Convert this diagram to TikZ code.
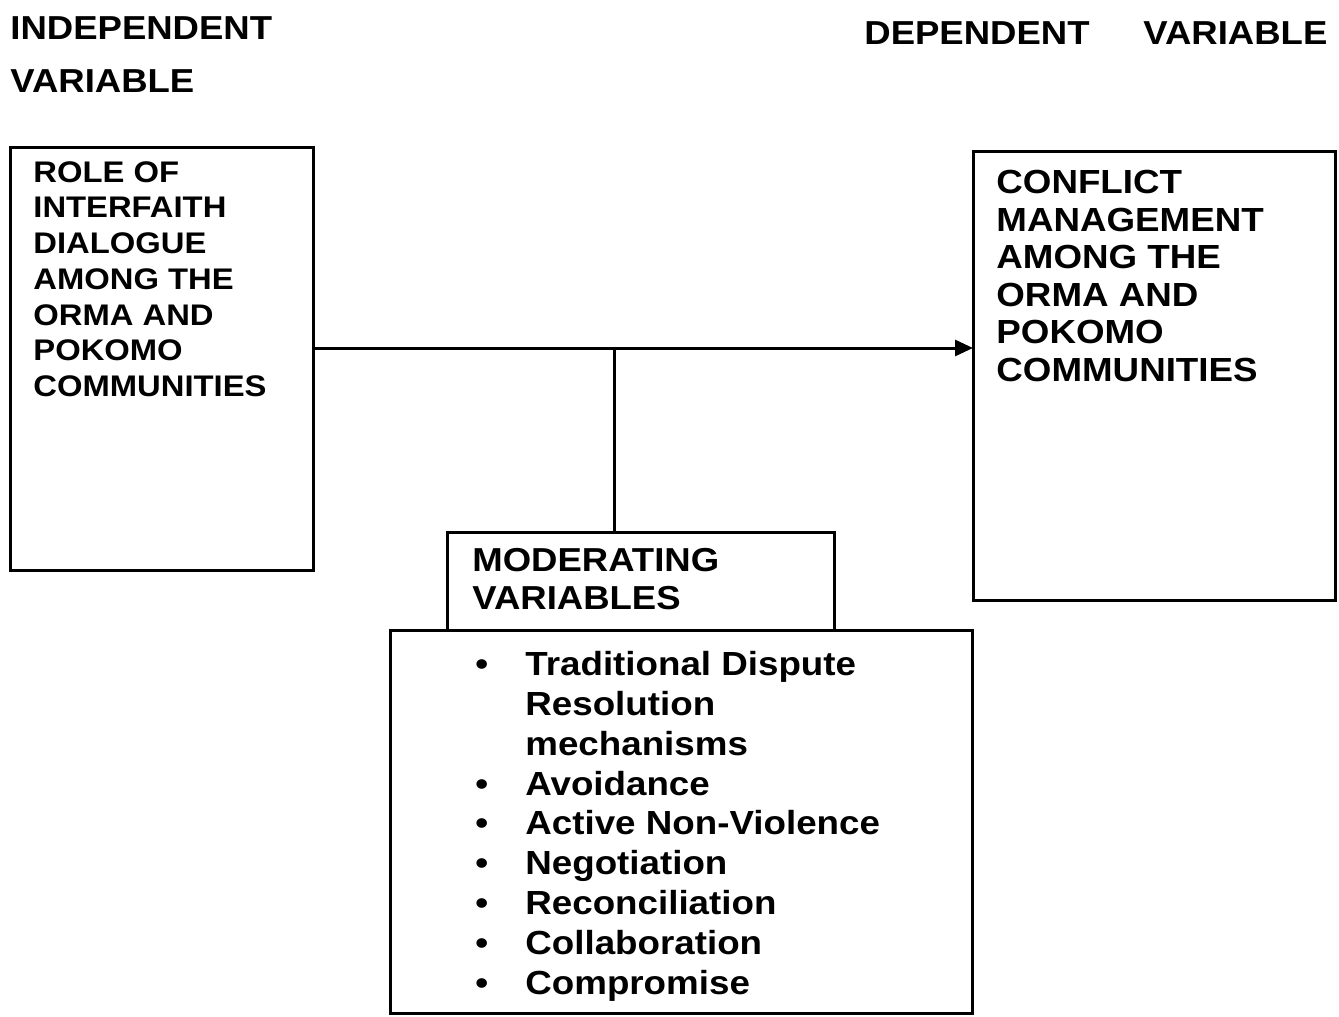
\documentclass[tikz,border=0pt]{standalone}
\usepackage{fontspec}
\setmainfont{Liberation Sans}
\newfontfamily\wfont[FakeStretch=1.1]{Liberation Sans}
\usetikzlibrary{arrows.meta}
\newcommand{\bul}{\makebox[25pt][l]{•}}
\begin{document}
\begin{tikzpicture}[x=0.5pt,y=-0.5pt,
  box/.style={draw,line width=1.5pt,inner sep=0pt,outer sep=0pt},
  conn/.style={line width=1.5pt},
  txt/.style={inner sep=0pt,anchor=north west,align=left},
  bigfont/.style={font=\wfont\bfseries\fontsize{16.7}{18.75}\selectfont},
  headfont/.style={font=\wfont\bfseries\fontsize{16.6}{26.5}\selectfont},
  leftfont/.style={font=\wfont\bfseries\fontsize{14.9}{17.85}\selectfont},
  modfont/.style={font=\wfont\bfseries\fontsize{16.6}{19}\selectfont},
  listfont/.style={font=\wfont\bfseries\fontsize{16.7}{19.9}\selectfont}]
\useasboundingbox[fill=white] (0,0) rectangle (1339,1017);

% headings
\node[txt,headfont] (indhead) at (10,16) {INDEPENDENT\\VARIABLE};
\node[txt,headfont] (dephead1) at (864,21) {DEPENDENT};
\node[txt,headfont] (dephead2) at (1143,21) {VARIABLE};

% boxes
\node[box,minimum width=151.5pt,minimum height=211.5pt] (ind) at (161.5,358.5) {};
\node[box,minimum width=181pt,minimum height=224.5pt] (dep) at (1154,375.5) {};
\node[box,minimum width=193.5pt,minimum height=49pt] (mod) at (640.5,581) {};
\node[box,minimum width=291pt,minimum height=191.5pt] (list) at (681,821.5) {};

% box texts
\node[txt,leftfont] (indtxt) at (33,161) {ROLE OF\\INTERFAITH\\DIALOGUE\\AMONG THE\\ORMA AND\\POKOMO\\COMMUNITIES};
\node[txt,bigfont] (deptxt) at (996,170) {CONFLICT\\MANAGEMENT\\AMONG THE\\ORMA AND\\POKOMO\\COMMUNITIES};
\node[txt,modfont] (modtxt) at (472,548) {MODERATING\\VARIABLES};
\node[txt,listfont] (listtxt) at (475,651) {%
\bul Traditional Dispute\\
\hspace*{25pt}Resolution\\
\hspace*{25pt}mechanisms\\
\bul Avoidance\\
\bul Active Non-Violence\\
\bul Negotiation\\
\bul Reconciliation\\
\bul Collaboration\\
\bul Compromise};

% connectors
\coordinate (junc) at (614,348);
\draw[conn,-{Triangle[length=9pt,width=8pt]}] (ind.east |- junc) -- (dep.west |- junc);
\draw[conn] (junc) -- (junc |- mod.north);
\end{tikzpicture}
\end{document}
